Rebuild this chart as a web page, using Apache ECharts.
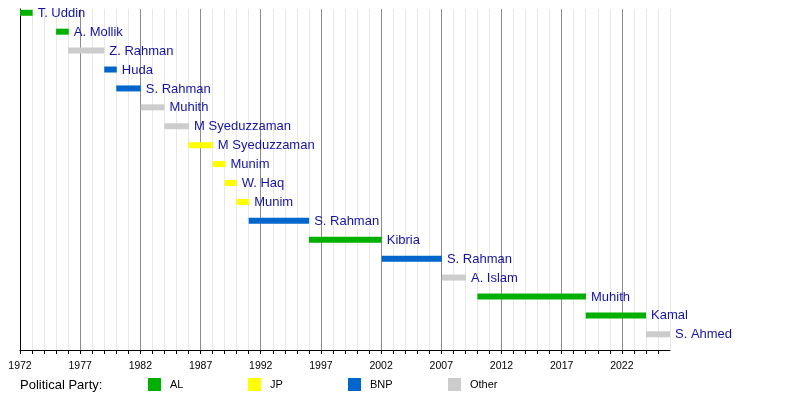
<!DOCTYPE html>
<html>
<head>
<meta charset="utf-8">
<script src="https://cdn.jsdelivr.net/npm/echarts@6/dist/echarts.min.js"></script>
<style>
  html, body { margin: 0; padding: 0; background: #fff; }
  #chart { width: 800px; height: 400px; }
</style>
</head>
<body>
<div id="chart"></div>
<script>
// finance ministers, one row each, top to bottom
const names = ["T. Uddin", "A. Mollik", "Z. Rahman", "Huda", "S. Rahman", "Muhith",
  "M Syeduzzaman", "M Syeduzzaman", "Munim", "W. Haq", "Munim", "S. Rahman",
  "Kibria", "S. Rahman", "A. Islam", "Muhith", "Kamal", "S. Ahmed"];
const starts = [1972.0, 1975.0, 1976.0, 1979.0, 1980.0, 1982.03, 1984.0, 1986.0, 1988.02,
  1989.0, 1990.0, 1991.0, 1996.0, 2002.05, 2007.05, 2010.0, 2019.0, 2024.0];
const ends = [1973.05, 1976.05, 1979.0, 1980.04, 1982.03, 1984.0, 1986.05, 1988.02, 1989.07,
  1990.0, 1991.04, 1996.02, 2002.05, 2007.05, 2009.05, 2019.02, 2024.01, 2026.0];
const parties = ["AL", "AL", "Other", "BNP", "BNP", "Other", "Other", "JP", "JP",
  "JP", "JP", "BNP", "AL", "BNP", "Other", "AL", "AL", "Other"];

const partyNames = ["AL", "JP", "BNP", "Other"];
const partyColors = ["#00b000", "#ffff00", "#0066cc", "#cccccc"];

var chart = echarts.init(document.getElementById("chart"));

function renderBar(params, api) {
  var s = api.coord([api.value(0), api.value(2)]);
  var e = api.coord([api.value(1), api.value(2)]);
  var idx = api.value(3);
  return {
    type: "group",
    children: [
      {
        type: "rect",
        shape: { x: s[0], y: s[1] - 3, width: e[0] - s[0], height: 6 },
        style: { fill: api.visual("color") },
      },
      {
        type: "text",
        style: {
          text: names[idx],
          x: e[0] + 5,
          y: s[1] + 0.5,
          align: "left",
          verticalAlign: "middle",
          fill: "#1414a4",
          font: "13px 'Liberation Sans', Arial, sans-serif",
        },
      },
    ],
  };
}

var series = partyNames.map(function (p, k) {
  var data = [];
  for (var i = 0; i < names.length; i++) {
    if (parties[i] == p) {
      data.push([starts[i], ends[i], i, i]);
    }
  }
  return {
    name: p,
    type: "custom",
    renderItem: renderBar,
    itemStyle: { color: partyColors[k] },
    encode: { x: [0, 1], y: 2 },
    data: data,
    silent: true,
  };
});

var legends = partyNames.map(function (p, k) {
  return {
    data: [{ name: p, icon: "rect" }],
    left: 148 + k * 100,
    top: 378,
    padding: 0,
    itemWidth: 13,
    itemHeight: 13,
    selectedMode: false,
    textStyle: {
      fontSize: 11,
      color: "#000",
      fontFamily: "'Liberation Sans', Arial, sans-serif",
      padding: [6, 0, 0, 4],
    },
  };
});

option = {
  animation: false,
  backgroundColor: "#fff",
  title: {
    text: "Political Party:",
    left: 20,
    top: 379,
    padding: 0,
    textStyle: {
      fontSize: 13,
      fontWeight: "normal",
      color: "#000",
      fontFamily: "'Liberation Sans', Arial, sans-serif",
    },
  },
  legend: legends,
  grid: { left: 20, right: 130, top: 9, bottom: 50 },
  xAxis: {
    type: "value",
    min: 1972,
    max: 2026,
    interval: 1,
    axisLine: { onZero: false, lineStyle: { color: "#000", width: 1 } },
    axisTick: { show: true, length: 4, lineStyle: { color: "#000" } },
    axisLabel: {
      margin: 11,
      fontSize: 10.5,
      color: "#000",
      fontFamily: "'Liberation Sans', Arial, sans-serif",
      showMaxLabel: false,
      formatter: function (v) {
        return (v - 1972) % 5 == 0 ? String(v) : "";
      },
    },
    splitLine: {
      show: true,
      lineStyle: {
        color: ["#8c8c8c", "#e8e8e8", "#e8e8e8", "#e8e8e8", "#e8e8e8"],
        width: 1,
      },
    },
  },
  yAxis: {
    type: "value",
    inverse: true,
    min: -0.2,
    max: 17.83,
    axisLine: { show: true, onZero: false, lineStyle: { color: "#000", width: 1 } },
    axisTick: { show: false },
    axisLabel: { show: false },
    splitLine: { show: false },
  },
  series: series,
};

chart.setOption(option);
</script>
</body>
</html>
